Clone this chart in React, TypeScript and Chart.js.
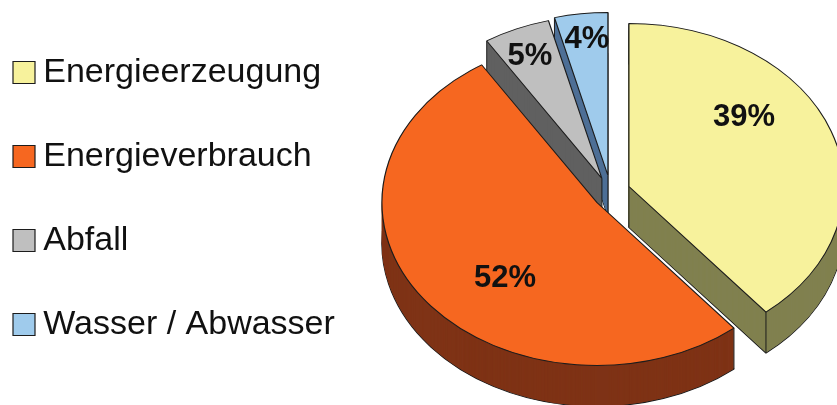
import React, { useEffect, useRef } from "react";
import { Chart, registerables } from "chart.js";

Chart.register(...registerables);

const categories = ["Energieerzeugung", "Energieverbrauch", "Abfall", "Wasser / Abwasser"];
const shares = [39, 52, 5, 4];

const topColors = ["#F7F29C", "#F66720", "#BFBFBF", "#9FCBEC"];
const sideColors = ["#808050", "#7F3316", "#606060", "#4F7097"];
const outline = "#1c1c1c";
const FONT = "'Liberation Sans', Arial, sans-serif";

// Pie tilt, wall height and how far each wedge is pulled out of the pie's centre
const RADIUS = 215;
const TILT = 163 / 215;
const DEPTH = 41;
const explode = [[38, -12], [6, 4], [11, -20], [17, -23]];
const labelShift = [[115, -69], [-92, 76], [-72, -122], [-21, -136]];
const paintOrder = [3, 2, 0, 1];

const pie3d = {
  id: "pie3d",
  beforeDatasetDraw(chart: any) {
    const ctx = chart.ctx;
    const arcs = chart.getDatasetMeta(0).data;
    const drawArc = (arc: any, cx: number, cy: number, over: any) => {
      const saved = arc.options;
      arc.options = { ...saved, ...over };
      ctx.save();
      ctx.translate(cx, cy);
      ctx.scale(1, TILT);
      ctx.translate(-arc.x, -arc.y);
      arc.draw(ctx);
      ctx.restore();
      arc.options = saved;
    };
    for (const i of paintOrder) {
      const arc = arcs[i];
      const cx = arc.x + explode[i][0];
      const cy = arc.y + explode[i][1];
      drawArc(arc, cx, cy + DEPTH, { backgroundColor: sideColors[i], borderColor: outline });
      for (let d = DEPTH - 0.5; d > 0; d -= 0.5) {
        drawArc(arc, cx, cy + d, { backgroundColor: sideColors[i], borderWidth: 0 });
      }
      ctx.save();
      ctx.strokeStyle = outline;
      ctx.lineWidth = 1;
      const px = (a: number) => cx + RADIUS * Math.cos(a);
      const py = (a: number) => cy + RADIUS * TILT * Math.sin(a);
      for (const [x, y] of [
        [px(arc.startAngle), py(arc.startAngle)],
        [px(arc.endAngle), py(arc.endAngle)],
        [cx, cy],
      ]) {
        ctx.beginPath();
        ctx.moveTo(x, y);
        ctx.lineTo(x, y + DEPTH);
        ctx.stroke();
      }
      ctx.restore();
      drawArc(arc, cx, cy, {});
    }
    return false;
  },
  afterDatasetsDraw(chart: any) {
    const ctx = chart.ctx;
    const arcs = chart.getDatasetMeta(0).data;
    ctx.save();
    ctx.font = `bold 31px ${FONT}`;
    ctx.fillStyle = "#111";
    ctx.textAlign = "center";
    ctx.textBaseline = "middle";
    shares.forEach((v, i) => {
      ctx.fillText(
        `${v}%`,
        arcs[i].x + explode[i][0] + labelShift[i][0],
        arcs[i].y + explode[i][1] + labelShift[i][1],
      );
    });
    ctx.restore();
  },
};

export default function App() {
  const ref = useRef<HTMLCanvasElement>(null);
  useEffect(() => {
    const chart = new Chart(ref.current!, {
      type: "pie",
      data: {
        labels: categories,
        datasets: [
          {
            data: shares,
            backgroundColor: topColors,
            borderColor: outline,
            borderWidth: 1.2,
            clip: false,
          } as any,
        ],
      },
      options: {
        responsive: false,
        animation: false,
        radius: RADIUS,
        layout: { padding: { left: -28.25, top: 0, bottom: 8, right: 0 } },
        plugins: {
          tooltip: { enabled: false },
          legend: {
            position: "left",
            maxWidth: 500,
            labels: {
              usePointStyle: true,
              pointStyle: "rect",
              boxWidth: 4.5,
              boxHeight: 22,
              padding: 50,
              color: "#111",
              font: { family: FONT, size: 34, lineHeight: 1.2 },
            },
          },
        },
      } as any,
      plugins: [pie3d],
    });
    return () => chart.destroy();
  }, []);
  return (
    <div style={{ position: "fixed", left: 0, top: 0, width: 837, height: 405, background: "#fff", overflow: "hidden" }}>
      <canvas ref={ref} width={837} height={405} style={{ display: "block", filter: "blur(0.5px)" }} />
    </div>
  );
}
